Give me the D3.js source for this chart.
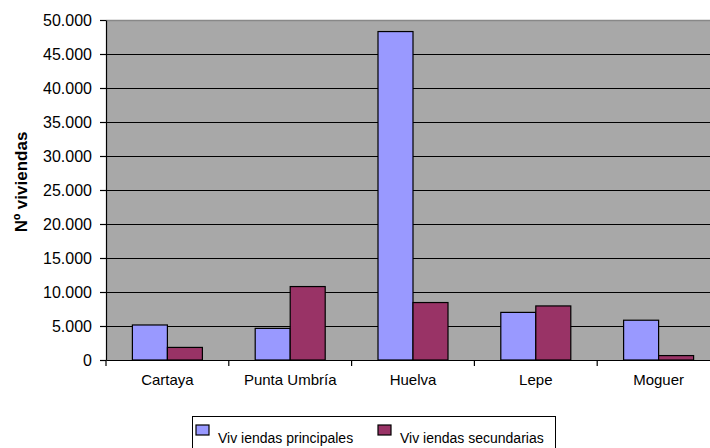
<!DOCTYPE html>
<html>
<head>
<meta charset="utf-8">
<script src="https://cdn.jsdelivr.net/npm/d3@7"></script>
<style>
  html, body { margin: 0; padding: 0; background: #fff; }
  svg { display: block; font-family: "Liberation Sans", Arial, sans-serif; }
</style>
</head>
<body>
<svg id="chart" width="710" height="448"></svg>
<script>
// Housing stock by municipality
const municipios = ["Cartaya", "Punta Umbría", "Huelva", "Lepe", "Moguer"];
const viviendasPrincipales = [5150, 4650, 48300, 7000, 5850];
const viviendasSecundarias = [1850, 10800, 8450, 7950, 650];
const seriesNames = ["Viv iendas principales", "Viv iendas secundarias"];
const seriesColors = ["#9999ff", "#993366"];
const yTicks = [0, 5000, 10000, 15000, 20000, 25000, 30000, 35000, 40000, 45000, 50000];

const svg = d3.select("#chart");
const plot = { left: 106, right: 720, top: 20, bottom: 360 };

const x = d3.scaleBand().domain(municipios).range([plot.left, plot.right]).paddingInner(0).paddingOuter(0);
const y = d3.scaleLinear().domain([0, 50000]).range([plot.bottom, plot.top]);
const barW = 35;

const fmt = v => d3.format(",")(v).replace(/,/g, ".");

// plot background
svg.append("rect")
  .attr("x", plot.left).attr("y", plot.top)
  .attr("width", plot.right - plot.left).attr("height", plot.bottom - plot.top)
  .attr("fill", "#a8a8a8");
svg.append("line")
  .attr("x1", plot.left).attr("x2", plot.right)
  .attr("y1", plot.top + 0.5).attr("y2", plot.top + 0.5)
  .attr("stroke", "#888").attr("stroke-width", 1.5);

// horizontal gridlines
svg.append("g").selectAll("line")
  .data(yTicks.filter(t => t > 0 && t < 50000))
  .join("line")
  .attr("x1", plot.left).attr("x2", plot.right)
  .attr("y1", d => Math.round(y(d)) + 0.5).attr("y2", d => Math.round(y(d)) + 0.5)
  .attr("stroke", "#000").attr("stroke-width", 1.2);

// bars, one group per series
const seriesData = [viviendasPrincipales, viviendasSecundarias];
seriesData.forEach((vals, si) => {
  svg.append("g").selectAll("rect")
    .data(municipios.map((m, i) => ({ m, v: vals[i] })))
    .join("rect")
    .attr("x", d => x(d.m) + x.bandwidth() / 2 - barW + si * barW)
    .attr("y", d => y(d.v))
    .attr("width", barW)
    .attr("height", d => y(0) - y(d.v))
    .attr("fill", seriesColors[si])
    .attr("stroke", "#000")
    .attr("stroke-width", 1.2);
});

// y axis
const yAxis = d3.axisLeft(y).tickValues(yTicks).tickSize(6).tickSizeOuter(0).tickFormat(fmt);
const gy = svg.append("g").attr("transform", `translate(${plot.left},0)`).call(yAxis);
gy.select(".domain").attr("stroke", "#000").attr("stroke-width", 1.2);
gy.selectAll(".tick line").attr("stroke", "#000").attr("stroke-width", 1.2);
gy.selectAll(".tick text")
  .attr("x", -14)
  .attr("fill", "#000")
  .style("font-size", "16px")
  .style("font-family", "'Liberation Sans', Arial, sans-serif");

// x axis
const xAxis = d3.axisBottom(x).tickSize(0).tickSizeOuter(0);
const gx = svg.append("g").attr("transform", `translate(0,${plot.bottom})`).call(xAxis);
gx.select(".domain").attr("stroke", "#000").attr("stroke-width", 1.2);
gx.selectAll(".tick text")
  .attr("y", 14)
  .attr("fill", "#000")
  .style("font-size", "15px")
  .style("font-family", "'Liberation Sans', Arial, sans-serif");
// category boundary ticks
svg.append("g").selectAll("line")
  .data(municipios)
  .join("line")
  .attr("x1", d => x(d)).attr("x2", d => x(d))
  .attr("y1", plot.bottom).attr("y2", plot.bottom + 6)
  .attr("stroke", "#000").attr("stroke-width", 1.2);

// y title
svg.append("text")
  .attr("transform", "translate(27,182) rotate(-90)")
  .attr("text-anchor", "middle")
  .style("font-size", "17px")
  .style("font-weight", "bold")
  .text("Nº viviendas");

// legend
const lg = svg.append("g");
lg.append("rect")
  .attr("x", 192.5).attr("y", 416.5)
  .attr("width", 363).attr("height", 40)
  .attr("fill", "#fff").attr("stroke", "#000").attr("stroke-width", 1);
const legendX = [196, 378];
seriesNames.forEach((name, i) => {
  lg.append("rect")
    .attr("x", legendX[i]).attr("y", 425)
    .attr("width", 13).attr("height", 10)
    .attr("fill", seriesColors[i]).attr("stroke", "#000").attr("stroke-width", 1.2);
  lg.append("text")
    .attr("x", legendX[i] + 22).attr("y", 443)
    .style("font-size", "14px")
    .text(name);
});
</script>
</body>
</html>
